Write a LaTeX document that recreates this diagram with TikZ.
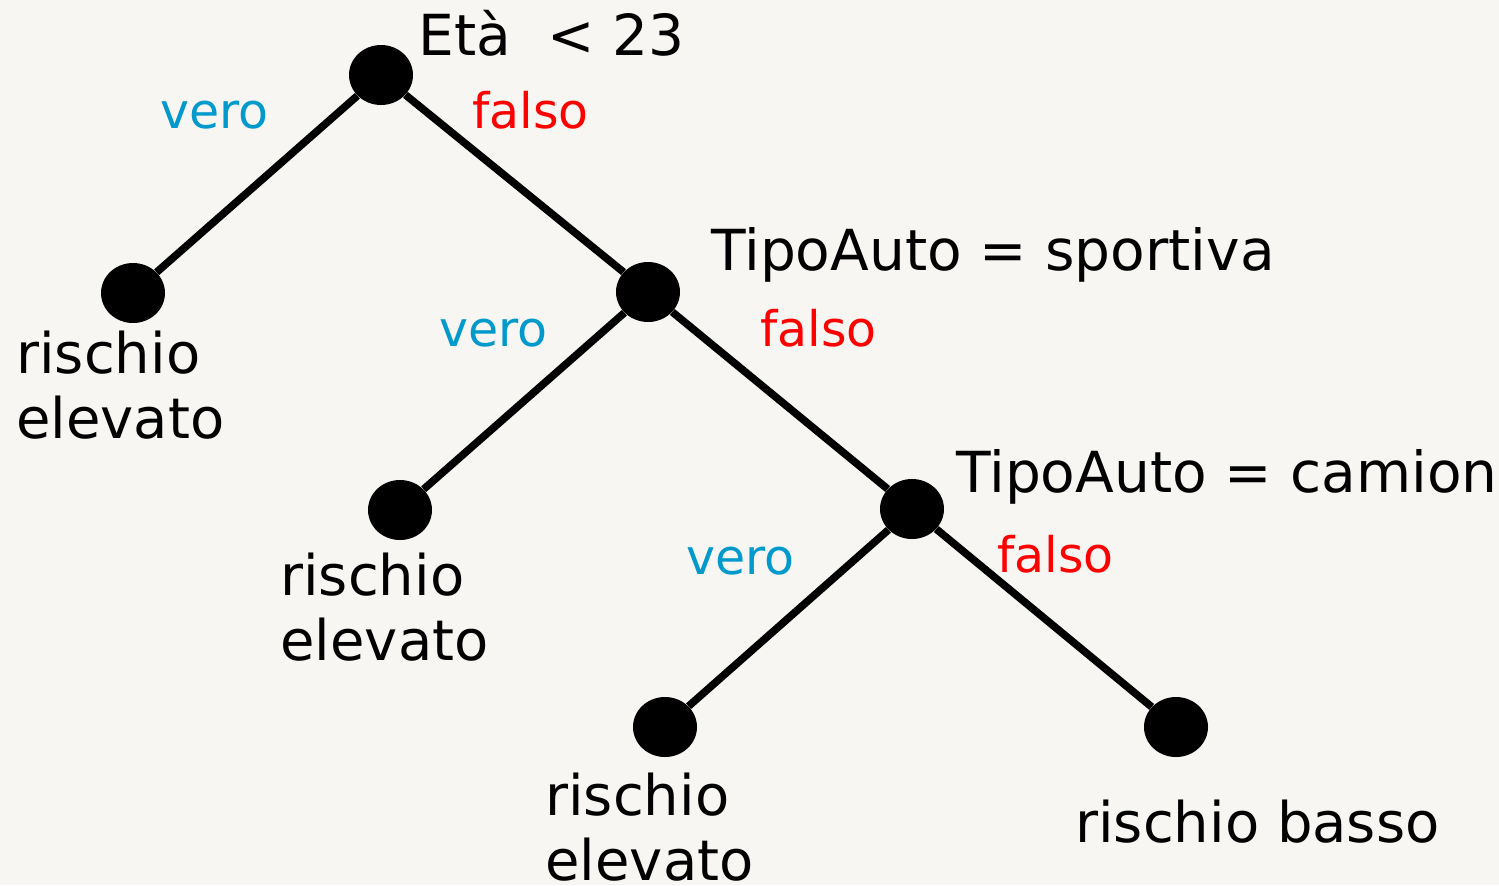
\documentclass[tikz,border=0pt]{standalone}
\usepackage{fontspec}
\setmainfont{DejaVu Sans}
\usetikzlibrary{shapes.geometric}
\definecolor{paper}{RGB}{247,246,242}
\definecolor{yesblue}{RGB}{0,153,204}
\definecolor{nored}{RGB}{255,0,0}
\tikzset{
  dot/.style={ellipse, fill=black, minimum width=32pt, minimum height=30pt, inner sep=0pt},
  edge/.style={line width=3.8pt},
  cond/.style={anchor=base west, inner sep=0pt, font=\fontsize{28.3}{32.5}\selectfont},
  leaf/.style={anchor=base west, inner sep=0pt, align=left, font=\fontsize{28}{32.5}\selectfont},
  yes/.style={anchor=base west, inner sep=0pt, text=yesblue, font=\fontsize{24.5}{28}\selectfont},
  no/.style={anchor=base west, inner sep=0pt, text=nored, font=\fontsize{24.5}{28}\selectfont}
}
\begin{document}
\begin{tikzpicture}[x=0.5pt, y=-0.5pt]
  \fill[paper] (0,0) rectangle (1499,885);
  \useasboundingbox (0,0) rectangle (1499,885);

  % decision nodes and leaves
  \node[dot] (root) at (381,75) {};
  \node[dot] (l1) at (133,293) {};
  \node[dot] (n2) at (648,292) {};
  \node[dot] (l2) at (400,510) {};
  \node[dot] (n3) at (912,509) {};
  \node[dot] (l3) at (665,727) {};
  \node[dot] (l4) at (1176,727) {};

  % branches
  \draw[edge] (root) -- (l1);
  \draw[edge] (root) -- (n2);
  \draw[edge] (n2) -- (l2);
  \draw[edge] (n2) -- (n3);
  \draw[edge] (n3) -- (l3);
  \draw[edge] (n3) -- (l4);

  % conditions
  \node[cond] (c1) at (418,55) {Età\ \ < 23};
  \node[cond] (c2) at (711,270) {TipoAuto = sportiva};
  \node[cond] (c3) at (956,492) {TipoAuto = camion};

  % branch labels
  \node[yes] (v1) at (160,128) {vero};
  \node[no]  (f1) at (472,128) {falso};
  \node[yes] (v2) at (439,346) {vero};
  \node[no]  (f2) at (760,346) {falso};
  \node[yes] (v3) at (686,574) {vero};
  \node[no]  (f3) at (997,572) {falso};

  % outcomes (anchored on the baseline of the last line)
  \node[leaf] (r1) at (16,438) {rischio\\elevato};
  \node[leaf] (r2) at (280,660) {rischio\\elevato};
  \node[leaf] (r3) at (545,880) {rischio\\elevato};
  \node[leaf] (r4) at (1075,842) {rischio basso};
\end{tikzpicture}
\end{document}
